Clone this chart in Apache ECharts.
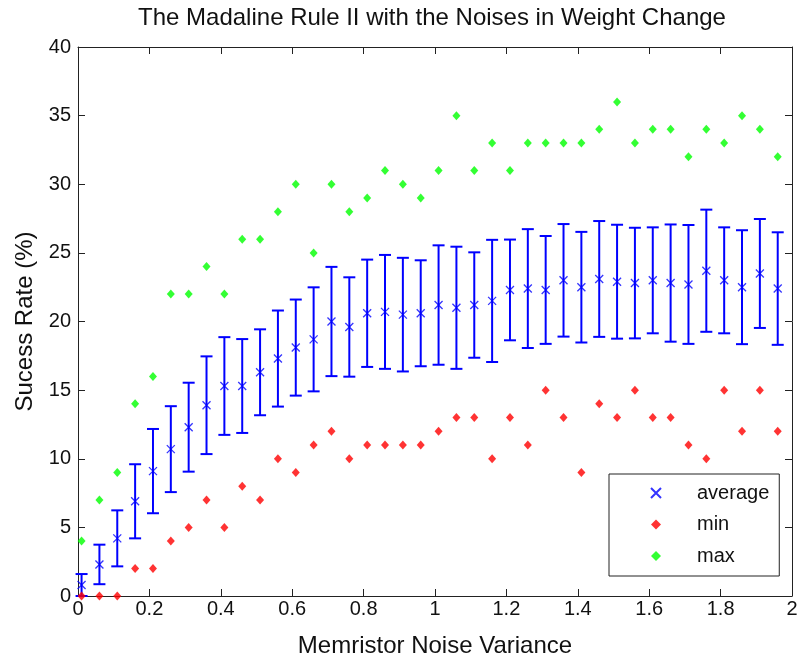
<!DOCTYPE html>
<html>
<head>
<meta charset="utf-8">
<script src="https://cdn.jsdelivr.net/npm/echarts@6/dist/echarts.min.js"></script>
<style>
  html, body { margin: 0; padding: 0; background: #fff; }
  #chart { width: 799px; height: 660px; }
</style>
</head>
<body>
<div id="chart"></div>
<script>
// Noise variance levels
const noiseVariance = [
  0.01, 0.06, 0.11, 0.16, 0.21, 0.26, 0.31, 0.36, 0.41, 0.46,
  0.51, 0.56, 0.61, 0.66, 0.71, 0.76, 0.81, 0.86, 0.91, 0.96,
  1.01, 1.06, 1.11, 1.16, 1.21, 1.26, 1.31, 1.36, 1.41, 1.46,
  1.51, 1.56, 1.61, 1.66, 1.71, 1.76, 1.81, 1.86, 1.91, 1.96
];
// Mean success rate (%)
const averageRate = [
  0.8, 2.3, 4.2, 6.9, 9.1, 10.7, 12.3, 13.9, 15.3, 15.3,
  16.3, 17.3, 18.1, 18.7, 20.0, 19.6, 20.6, 20.7, 20.5, 20.6,
  21.2, 21.0, 21.2, 21.5, 22.3, 22.4, 22.3, 23.0, 22.5, 23.1,
  22.9, 22.8, 23.0, 22.8, 22.7, 23.7, 23.0, 22.5, 23.5, 22.4
];
// Standard deviation (error bar half-length)
const stdRate = [
  0.8, 1.44, 2.04, 2.7, 3.07, 3.13, 3.24, 3.56, 3.56, 3.42,
  3.13, 3.5, 3.5, 3.79, 3.98, 3.62, 3.91, 4.15, 4.14, 3.86,
  4.35, 4.45, 3.84, 4.45, 3.67, 4.33, 3.93, 4.1, 4.03, 4.22,
  4.15, 4.03, 3.86, 4.27, 4.33, 4.45, 3.86, 4.15, 3.97, 4.1
];
// Minimum success rate (%)
const minRate = [
  0, 0, 0, 2, 2, 4, 5, 7, 5, 8,
  7, 10, 9, 11, 12, 10, 11, 11, 11, 11,
  12, 13, 13, 10, 13, 11, 15, 13, 9, 14,
  13, 15, 13, 13, 11, 10, 15, 12, 15, 12
];
// Maximum success rate (%)
const maxRate = [
  4, 7, 9, 14, 16, 22, 22, 24, 22, 26,
  26, 28, 30, 25, 30, 28, 29, 31, 30, 29,
  31, 35, 31, 33, 31, 33, 33, 33, 33, 34,
  36, 33, 34, 34, 32, 34, 33, 35, 34, 32
];

const FONT = '"Liberation Sans", Arial, sans-serif';
const AXIS_COLOR = '#222';
const TEXT_COLOR = '#111';

const errorData = noiseVariance.map((x, i) => [x, averageRate[i] - stdRate[i], averageRate[i] + stdRate[i]]);
const avgData = noiseVariance.map((x, i) => [x, averageRate[i]]);
const minData = noiseVariance.map((x, i) => [x, minRate[i]]);
const maxData = noiseVariance.map((x, i) => [x, maxRate[i]]);

// Vertical error bar with caps at both ends
function renderErrorBar(params, api) {
  const x = api.value(0);
  const lo = api.coord([x, api.value(1)]);
  const hi = api.coord([x, api.value(2)]);
  const half = 6;
  const style = { stroke: '#0000ff', lineWidth: 2, fill: null };
  return {
    type: 'group',
    children: [
      { type: 'line', shape: { x1: lo[0], y1: lo[1], x2: hi[0], y2: hi[1] }, style },
      { type: 'line', shape: { x1: lo[0] - half, y1: lo[1], x2: lo[0] + half, y2: lo[1] }, style },
      { type: 'line', shape: { x1: hi[0] - half, y1: hi[1], x2: hi[0] + half, y2: hi[1] }, style }
    ]
  };
}

const xAxisBase = {
  type: 'value', min: 0, max: 2, interval: 0.2,
  axisLine: { show: true, onZero: false, lineStyle: { color: AXIS_COLOR, width: 1 } },
  axisTick: { show: true, inside: true, length: 7, lineStyle: { color: AXIS_COLOR } },
  splitLine: { show: false }
};
const yAxisBase = {
  type: 'value', min: 0, max: 40, interval: 5,
  axisLine: { show: true, onZero: false, lineStyle: { color: AXIS_COLOR, width: 1 } },
  axisTick: { show: true, inside: true, length: 7, lineStyle: { color: AXIS_COLOR } },
  splitLine: { show: false }
};

const chart = echarts.init(document.getElementById('chart'), null, { renderer: 'canvas' });
chart.setOption({
  backgroundColor: '#fff',
  animation: false,
  title: {
    text: 'The Madaline Rule II with the Noises in Weight Change',
    left: 432, top: 6, padding: 0, textAlign: 'center',
    textStyle: { fontFamily: FONT, fontSize: 24, fontWeight: 'normal', color: TEXT_COLOR }
  },
  grid: { left: 78, top: 47, width: 714, height: 549, outerBoundsMode: 'none', containLabel: false },
  xAxis: [
    Object.assign({}, xAxisBase, {
      position: 'bottom',
      name: 'Memristor Noise Variance', nameLocation: 'middle', nameGap: 38,
      nameTextStyle: { fontFamily: FONT, fontSize: 24, color: TEXT_COLOR },
      axisLabel: { fontFamily: FONT, fontSize: 20, color: TEXT_COLOR, margin: 3 }
    }),
    Object.assign({}, xAxisBase, { position: 'top', axisLabel: { show: false } })
  ],
  yAxis: [
    Object.assign({}, yAxisBase, {
      position: 'left',
      name: 'Sucess Rate (%)', nameLocation: 'middle', nameGap: 39,
      nameTextStyle: { fontFamily: FONT, fontSize: 24, color: TEXT_COLOR },
      axisLabel: { fontFamily: FONT, fontSize: 20, color: TEXT_COLOR, margin: 7 }
    }),
    Object.assign({}, yAxisBase, { position: 'right', axisLabel: { show: false } })
  ],
  legend: {
    data: ['average', 'min', 'max'],
    orient: 'vertical',
    left: 609, top: 474,
    padding: [9, 10, 10, 41],
    itemWidth: 10, itemHeight: 10, itemGap: 11.5,
    backgroundColor: '#fff',
    borderColor: AXIS_COLOR, borderWidth: 1,
    textStyle: { fontFamily: FONT, fontSize: 20, color: TEXT_COLOR, padding: [0, 0, 0, 31] }
  },
  series: [
    {
      name: 'errorbar', type: 'custom', renderItem: renderErrorBar,
      data: errorData, encode: { x: 0, y: [1, 2] }, z: 2, clip: false
    },
    {
      name: 'average', type: 'scatter', data: avgData,
      symbol: 'path://M0,0L10,10M10,0L0,10', symbolSize: 8,
      itemStyle: { color: 'rgba(0,0,0,0)', borderColor: '#0000ff', borderWidth: 1.3 },
      z: 3
    },
    {
      name: 'min', type: 'scatter', data: minData,
      symbol: 'diamond', symbolSize: [8, 9],
      itemStyle: { color: '#ff0000' }, z: 4
    },
    {
      name: 'max', type: 'scatter', data: maxData,
      symbol: 'diamond', symbolSize: [8, 9],
      itemStyle: { color: '#00ff00' }, z: 4
    }
  ]
});
</script>
</body>
</html>
